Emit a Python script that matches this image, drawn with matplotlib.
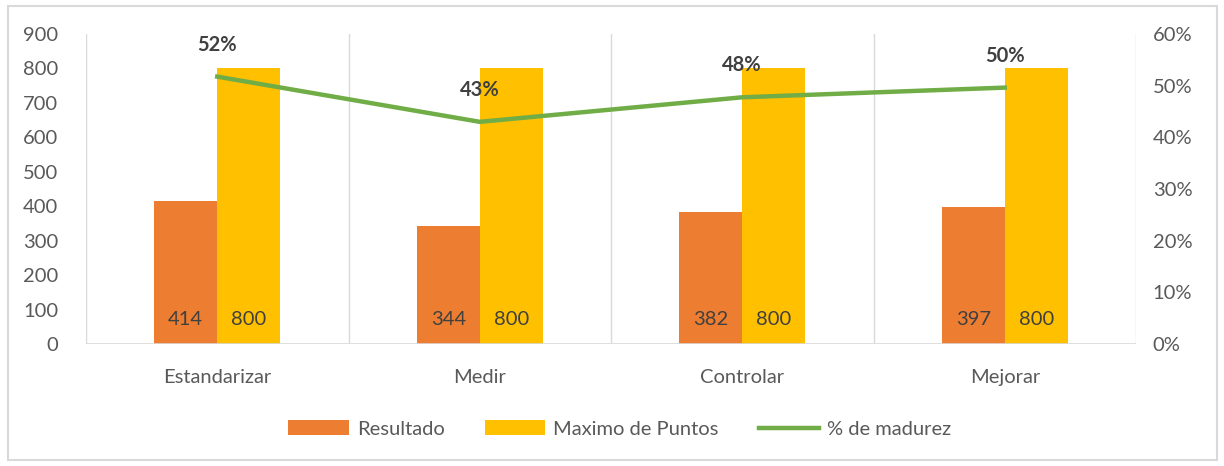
import matplotlib.pyplot as plt
import numpy as np
from matplotlib.patches import Rectangle

categories = ['Estandarizar', 'Medir', 'Controlar', 'Mejorar']
resultado = [414, 344, 382, 397]
maximo = [800, 800, 800, 800]
madurez = [0.5175, 0.43, 0.4775, 0.49625]
madurez_labels = ['52%', '43%', '48%', '50%']

plt.rcParams['font.family'] = ['Lato', 'DejaVu Sans']
fs = 14.5

fig = plt.figure(figsize=(12.24, 4.66), dpi=100)
# marco exterior del grafico
fig.patches.append(Rectangle((8 / 1224, 6 / 466), 1209 / 1224, 454 / 466,
                             transform=fig.transFigure, fill=False,
                             edgecolor='#d9d9d9', linewidth=1.5))

ax = fig.add_axes([86 / 1224, 122 / 466, 1050 / 1224, 310 / 466])
ax2 = ax.twinx()

x = np.arange(len(categories))
w = 0.24
b1 = ax.bar(x - w / 2, resultado, w, color='#ED7D31', label='Resultado', zorder=2)
b2 = ax.bar(x + w / 2, maximo, w, color='#FFC000', label='Maximo de Puntos', zorder=2)

for bars, vals in ((b1, resultado), (b2, maximo)):
    for r, v in zip(bars, vals):
        ax.text(r.get_x() + r.get_width() / 2, 70, str(v), ha='center', va='center',
                fontsize=fs, color='#404040', zorder=3)

ax.set_xlim(-0.5, len(categories) - 0.5)
ax.set_ylim(0, 900)
ax.set_yticks(range(0, 901, 100))
ax.set_xticks(x)
ax.set_xticklabels(categories)

# lineas verticales entre categorias
for b in np.arange(-0.5, len(categories), 1.0):
    ax.axvline(b, color='#d9d9d9', linewidth=1, zorder=1)

for s in ax.spines.values():
    s.set_visible(False)
for s in ax2.spines.values():
    s.set_visible(False)
ax.axhline(0, color='#d9d9d9', linewidth=1.2, zorder=3)

ax.tick_params(axis='both', length=0, labelsize=fs, labelcolor='#595959')
ax.tick_params(axis='x', pad=18)
ax.tick_params(axis='y', pad=20)

ax2.plot(x, madurez, color='#70AD47', linewidth=3.2, label='% de madurez', zorder=4)
ax2.set_ylim(0, 0.6)
ax2.set_yticks(np.arange(0, 0.61, 0.1))
ax2.set_yticklabels([f'{int(round(t * 100))}%' for t in np.arange(0, 0.61, 0.1)])
ax2.tick_params(axis='y', length=0, labelsize=fs, labelcolor='#595959', pad=12)

for xi, m, lab in zip(x, madurez, madurez_labels):
    ax2.annotate(lab, (xi, m), xytext=(0, 23), textcoords='offset points',
                 ha='center', va='center', fontsize=fs, fontweight='bold',
                 color='#404040')

h1, l1 = ax.get_legend_handles_labels()
h2, l2 = ax2.get_legend_handles_labels()
fig.legend(h1 + h2, l1 + l2, loc='center', bbox_to_anchor=(620 / 1224, 37 / 466),
           ncol=3, frameon=False, fontsize=fs, labelcolor='#595959',
           handlelength=3.0, handleheight=0.7, handletextpad=0.4, columnspacing=2.0)

fig.savefig('out.png', dpi=100)
